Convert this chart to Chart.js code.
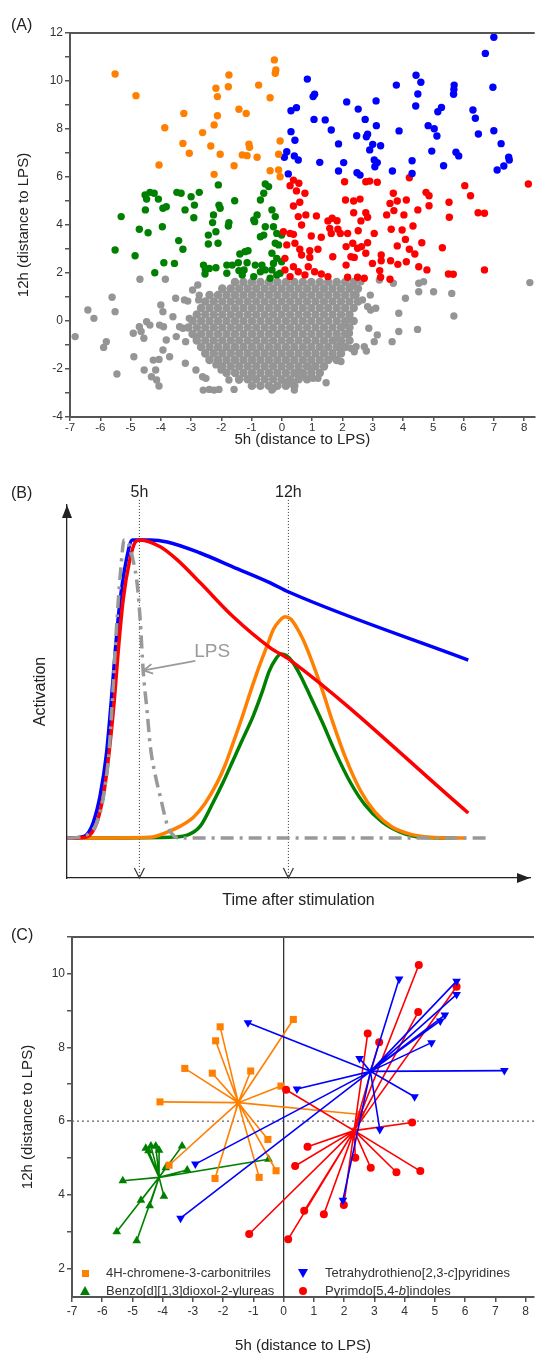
<!DOCTYPE html>
<html>
<head>
<meta charset="utf-8">
<script src="https://cdn.jsdelivr.net/npm/chart.js@4.4.1/dist/chart.umd.min.js"></script>
<style>
  body { margin: 0; background: #fff; width: 539px; height: 1355px; position: relative; overflow: hidden;
         font-family: Arial, "Liberation Sans", sans-serif; }
  canvas { position: absolute; left: 0; }
  .panel { position: absolute; font-size: 16px; color: #222; }
  .leg { position: absolute; font-size: 13px; color: #333; white-space: nowrap; line-height: 16px; }
  .mk { position: absolute; }
</style>
</head>
<body>
<canvas id="chartA" width="539" height="450" style="top:0"></canvas>
<canvas id="chartB" width="539" height="460" style="top:460px"></canvas>
<canvas id="chartC" width="539" height="435" style="top:920px"></canvas>

<div class="panel" style="left:11px;top:16px">(A)</div>
<div class="panel" style="left:11px;top:484px">(B)</div>
<div class="panel" style="left:11px;top:926px">(C)</div>

<!-- panel C legend -->
<div class="mk" style="left:82px;top:1270px;width:7px;height:7px;background:#FF8000"></div>
<div class="mk" style="left:80px;top:1286px;width:0;height:0;border-left:5px solid transparent;border-right:5px solid transparent;border-bottom:9px solid #008000"></div>
<div class="mk" style="left:298px;top:1269px;width:0;height:0;border-left:5px solid transparent;border-right:5px solid transparent;border-top:9px solid #0000FF"></div>
<div class="mk" style="left:299px;top:1287px;width:8px;height:8px;border-radius:50%;background:#FF0000"></div>
<div class="leg" style="left:106px;top:1265px">4H-chromene-3-carbonitriles</div>
<div class="leg" style="left:106px;top:1283px">Benzo[d][1,3]dioxol-2-ylureas</div>
<div class="leg" style="left:325px;top:1265px">Tetrahydrothieno[2,3-<i>c</i>]pyridines</div>
<div class="leg" style="left:325px;top:1283px">Pyrimdo[5,4-<i>b</i>]indoles</div>

<script>
// ---------- panel A data: [5h, 12h] distance to LPS ----------
const orangeA = [[-5.51,10.29],[-4.82,9.39],[-3.24,8.65],[-3.87,8.05],[-4.06,6.5],[-3.27,7.40],[-3.06,6.99],[-2.62,7.85],
  [-2.35,7.29],[-2.24,8.17],[-2.13,8.55],[-2.13,9.35],[-2.18,9.70],[-1.77,9.76],[-1.75,10.25],[-2.04,6.95],[-2.24,6.11],
  [-1.58,6.47],[-1.42,8.82],[-1.18,8.65],[-1.09,7.37],[-1.07,7.24],[-1.31,6.92],[-1.15,6.89],[-0.82,6.82],[-0.77,9.83],
  [-0.25,10.88],[-0.20,10.46],[-0.22,10.32],[-0.39,9.30],[-0.06,7.5],[-0.11,6.95],[-0.39,6.26],[-0.11,6.29],[-0.06,6.01]];

const blueA = [[7.0,11.82],[6.72,11.15],[6.97,9.74],[0.84,10.08],[3.78,9.83],[4.43,10.24],[4.59,9.95],[4.49,9.46],[4.42,8.96],
  [5.69,9.83],[5.68,9.65],[5.67,9.45],[1.03,9.35],[1.08,9.45],[0.30,8.76],[0.48,8.89],[2.14,9.13],[3.11,9.17],[2.52,8.83],
  [1.06,8.40],[1.43,8.38],[2.75,8.40],[5.15,8.72],[5.27,8.90],[6.31,8.79],[6.39,8.45],[1.63,7.96],[3.12,8.14],[0.30,7.89],
  [0.43,7.53],[2.47,7.72],[2.79,7.68],[2.83,7.78],[3.87,7.92],[4.83,8.14],[5.03,8.01],[5.12,7.71],[6.49,7.79],[7.0,7.93],
  [1.87,7.38],[3.00,7.36],[3.26,7.30],[2.90,7.13],[0.16,7.05],[0.08,6.82],[0.41,6.88],[0.54,6.71],[1.25,6.61],[2.04,6.60],
  [3.05,6.71],[3.15,6.60],[3.07,6.43],[4.30,6.68],[4.95,7.08],[5.75,7.03],[5.84,6.88],[5.34,6.47],[7.24,7.39],[7.49,6.82],
  [7.51,6.71],[7.33,6.46],[7.11,6.29],[1.87,6.25],[2.48,6.18],[2.58,6.08],[3.65,6.25],[4.30,6.15],[0.21,6.13]];

const redA = [[2.07,5.80],[2.77,5.80],[2.90,5.83],[3.15,5.78],[4.21,5.97],[6.04,5.64],[6.23,5.22],[8.14,5.71],[0.27,5.64],
  [0.38,5.87],[0.56,5.74],[0.48,5.42],[0.76,5.32],[0.59,4.95],[3.68,5.32],[4.76,5.36],[4.86,5.22],[2.10,5.04],[2.37,5.0],
  [2.58,5.08],[3.57,4.90],[3.81,5.0],[4.11,5.04],[5.52,4.95],[0.38,4.79],[4.86,4.80],[6.48,4.51],[6.69,4.49],[0.54,4.35],
  [0.79,4.42],[1.14,4.38],[1.52,4.17],[1.66,4.28],[1.82,4.18],[2.37,4.51],[2.61,4.17],[2.83,4.32],[2.77,4.51],[3.46,4.42],
  [3.70,4.60],[4.03,4.42],[4.49,4.63],[5.53,4.32],[0.65,4.0],[1.58,3.86],[1.85,3.82],[1.93,3.65],[2.17,3.65],[2.52,3.76],
  [3.05,3.65],[3.61,3.82],[3.97,3.79],[4.33,3.96],[0.27,3.65],[0.38,3.61],[0.05,3.72],[0.97,3.54],[1.30,3.49],[1.63,3.65],
  [0.16,3.17],[0.43,3.24],[0.59,2.99],[0.92,2.93],[1.19,2.99],[0.65,2.75],[0.92,2.65],[1.68,2.68],[2.12,3.10],[2.34,3.24],
  [2.50,3.03],[2.63,3.10],[2.77,2.82],[2.39,2.65],[2.83,3.26],[3.28,2.75],[3.28,2.51],[2.99,2.40],[3.23,2.10],[3.59,2.51],
  [3.81,3.13],[3.83,2.36],[4.11,2.47],[4.21,2.99],[4.39,2.79],[4.08,3.40],[4.52,2.26],[4.79,2.13],[4.62,3.26],[5.30,3.05],
  [5.50,1.96],[5.66,1.95],[6.69,2.13],[0.10,2.61],[0.38,2.26],[0.10,2.13],[0.54,2.05],[0.87,2.26],[1.08,2.05],[1.30,1.96],
  [1.52,1.85],[0.27,1.85],[0.76,1.92],[2.17,1.82],[2.50,1.82],[2.72,1.78],[3.26,1.82],[3.57,1.74],[2.12,2.33],[2.28,2.68]];

const greenA = [[-4.52,5.25],[-4.36,5.36],[-4.22,5.32],[-4.08,5.08],[-4.47,5.08],[-3.47,5.36],[-3.33,5.32],[-3.0,5.18],
  [-2.73,5.36],[-2.10,5.67],[-1.56,5.01],[-2.08,4.83],[-0.55,5.71],[-0.60,5.32],[-0.71,5.04],[-0.44,5.60],[-5.31,4.35],
  [-5.51,2.96],[-4.85,2.72],[-4.71,3.82],[-4.42,3.68],[-4.51,4.63],[-3.93,4.70],[-3.82,4.76],[-3.95,3.93],[-3.41,3.35],
  [-3.27,2.99],[-3.90,2.43],[-3.55,2.40],[-4.20,2.01],[-3.20,4.63],[-2.89,4.83],[-2.91,4.30],[-2.26,4.42],[-2.29,4.10],
  [-2.18,3.72],[-2.43,3.58],[-2.43,3.21],[-2.11,3.24],[-2.04,4.70],[-1.75,4.10],[-1.77,3.96],[-2.59,2.33],[-2.53,2.15],
  [-2.40,2.19],[-2.18,2.22],[-2.54,1.96],[-1.82,2.33],[-1.64,2.33],[-1.44,2.43],[-1.82,1.99],[-1.39,2.79],[-1.22,2.89],
  [-1.12,2.93],[-1.15,2.43],[-1.42,2.10],[-1.31,1.92],[-1.25,2.13],[-0.93,1.85],[-0.88,2.33],[-0.66,2.33],[-0.55,2.13],
  [-0.71,2.05],[-0.90,4.14],[-0.82,4.42],[-0.93,4.21],[-0.60,3.58],[-0.71,3.51],[-0.55,3.93],[-0.33,4.63],[-0.22,4.35],
  [-0.28,3.93],[-0.17,3.65],[-0.01,3.58],[-0.22,3.24],[-0.11,3.17],[-0.33,2.82],[-0.17,2.61],[-0.28,2.40],[-0.01,2.47],
  [-0.33,2.13],[-0.17,1.92],[-0.39,1.78],[-0.06,1.99]];

// scattered grey compounds around the main cloud
const grayOutA = [[-6.83,-0.65],[-6.41,0.46],[-6.21,0.11],[-5.61,0.99],[-5.51,0.39],[-5.80,-0.86],[-5.89,-1.10],[-5.45,-2.21],
  [-4.91,-0.51],[-4.89,-1.49],[-4.69,1.74],[-4.71,-0.24],[-4.65,-0.44],[-4.56,-0.72],[-4.55,-2.04],[-4.47,-0.03],[-4.36,-0.17],
  [-4.25,-1.63],[-4.31,-2.32],[-4.17,-2.04],[-4.14,-2.46],[-4.06,-2.71],[-4.06,-1.60],[-4.00,0.67],[-3.93,0.39],[-4.04,-0.17],
  [-3.91,-0.24],[-3.85,1.74],[-3.82,-0.79],[-3.93,-1.21],[-3.71,-1.49],[-3.60,0.18],[-3.51,0.95],[-3.38,-0.24],[-3.49,-0.65],
  [-3.27,-0.30],[-3.22,0.88],[-3.19,-1.76],[-3.11,0.83],[-3.06,0.11],[-2.95,1.29],[-2.78,1.50],[-2.73,1.08],[-2.75,0.88],
  [-2.84,-0.65],[-2.84,-2.04],[-2.60,-2.88],[-2.40,-2.85],[-2.24,-2.88],[-2.08,-2.85],[-2.62,-2.32],[-2.51,-2.39],[-2.18,-1.83],
  [-2.01,-2.04],[-1.75,-2.46],[-1.58,-2.85],[-1.42,-2.46],[-1.09,-2.39],[-3.18,-0.86],[-0.28,-2.80],[0.16,-2.57],[0.38,-2.57],
  [0.41,-2.88],[0.70,-2.25],[1.03,-2.39],[1.19,-2.39],[1.46,-2.57],[1.95,-1.69],[2.28,-1.14],[2.45,-1.07],[2.72,-1.07],
  [2.79,-1.25],[2.87,-0.30],[3.05,-0.86],[3.15,-0.58],[3.64,-0.86],[3.86,-0.44],[4.48,-0.35],[2.93,0.46],[3.10,0.53],[2.92,1.08],
  [3.86,0.32],[4.08,0.95],[4.52,1.22],[4.52,1.57],[4.68,1.64],[5.01,1.22],[5.61,1.15],[5.68,0.21],[8.19,1.60],[3.68,1.57],
  [3.22,1.71],[2.61,1.64],[2.28,1.43],[2.45,1.08],[2.66,0.88],[2.83,0.60],[2.17,0.04],[2.07,-0.17],[2.23,-0.51],[1.90,-0.79],
  [2.39,-1.28],[1.95,-1.07],[1.68,-1.49],[0.97,-1.97],[0.59,-2.18],[-0.01,-2.46],[-0.33,-2.88]];

// dense grey core, read row by row: [12h, list of 5h values]
const grayCoreA = [
  [1.62, [-1.55,-1.27,-0.99,-0.71,-0.43,-0.15,0.13,0.41,0.69,0.97,1.25,1.53,1.81,2.09,2.37]],
  [1.35, [-1.97,-1.69,-1.41,-1.13,-0.85,-0.57,-0.29,-0.01,0.27,0.55,0.83,1.11,1.39,1.67,1.95,2.23,2.51]],
  [1.08, [-2.39,-2.11,-1.83,-1.55,-1.27,-0.99,-0.71,-0.43,-0.15,0.13,0.41,0.69,0.97,1.25,1.53,1.81,2.09,2.37]],
  [0.81, [-2.53,-2.25,-1.97,-1.69,-1.41,-1.13,-0.85,-0.57,-0.29,-0.01,0.27,0.55,0.83,1.11,1.39,1.67,1.95,2.23,2.51]],
  [0.54, [-2.67,-2.39,-2.11,-1.83,-1.55,-1.27,-0.99,-0.71,-0.43,-0.15,0.13,0.41,0.69,0.97,1.25,1.53,1.81,2.09,2.37]],
  [0.27, [-2.81,-2.53,-2.25,-1.97,-1.69,-1.41,-1.13,-0.85,-0.57,-0.29,-0.01,0.27,0.55,0.83,1.11,1.39,1.67,1.95,2.23]],
  [0.00, [-2.95,-2.67,-2.39,-2.11,-1.83,-1.55,-1.27,-0.99,-0.71,-0.43,-0.15,0.13,0.41,0.69,0.97,1.25,1.53,1.81,2.09,2.37]],
  [-0.27, [-3.09,-2.81,-2.53,-2.25,-1.97,-1.69,-1.41,-1.13,-0.85,-0.57,-0.29,-0.01,0.27,0.55,0.83,1.11,1.39,1.67,1.95,2.23]],
  [-0.54, [-2.95,-2.67,-2.39,-2.11,-1.83,-1.55,-1.27,-0.99,-0.71,-0.43,-0.15,0.13,0.41,0.69,0.97,1.25,1.53,1.81,2.09]],
  [-0.81, [-2.81,-2.53,-2.25,-1.97,-1.69,-1.41,-1.13,-0.85,-0.57,-0.29,-0.01,0.27,0.55,0.83,1.11,1.39,1.67,1.95,2.23]],
  [-1.08, [-2.67,-2.39,-2.11,-1.83,-1.55,-1.27,-0.99,-0.71,-0.43,-0.15,0.13,0.41,0.69,0.97,1.25,1.53,1.81,2.09]],
  [-1.35, [-2.53,-2.25,-1.97,-1.69,-1.41,-1.13,-0.85,-0.57,-0.29,-0.01,0.27,0.55,0.83,1.11,1.39,1.67,1.95]],
  [-1.62, [-2.39,-2.11,-1.83,-1.55,-1.27,-0.99,-0.71,-0.43,-0.15,0.13,0.41,0.69,0.97,1.25,1.53,1.81]],
  [-1.89, [-1.97,-1.69,-1.41,-1.13,-0.85,-0.57,-0.29,-0.01,0.27,0.55,0.83,1.11,1.39]],
  [-2.16, [-1.83,-1.55,-1.27,-0.99,-0.71,-0.43,-0.15,0.13,0.41,0.69,0.97,1.25]],
  [-2.43, [-1.41,-1.13,-0.85,-0.57,-0.29,-0.01,0.27,0.55,0.83]],
  [-2.70, [-0.99,-0.71,-0.43,-0.15,0.13,0.41]]
];

const xTicksA = [-7,-6,-5,-4,-3,-2,-1,0,1,2,3,4,5,6,7,8];
const yTicksA = [-4,-3,-2,-1,0,1,2,3,4,5,6,7,8,9,10,11,12];
const yLabelsA = [-4,-2,0,2,4,6,8,10,12];

// ---------- panel B data: [time (h), activation] ----------
const lpsCurve = [[1.62,0],[2.23,0.003],[2.6,0.013],[2.93,0.04],[3.21,0.1],[3.4,0.18],[3.54,0.26],[3.73,0.46],[3.92,0.7],
  [4.1,0.88],[4.29,1.0],[4.48,0.99],[4.71,0.93],[4.9,0.85],[5.04,0.73],[5.18,0.56],[5.37,0.42],[5.51,0.31],[5.75,0.21],
  [5.98,0.14],[6.31,0.044],[6.54,0.013],[6.83,0],[21.47,0]];
const blueCurve = [[1.62,0],[2.23,0.003],[2.55,0.013],[2.84,0.054],[3.16,0.144],[3.45,0.28],[3.68,0.46],[3.87,0.63],
  [4.1,0.8],[4.38,0.93],[4.67,1.0],[5.51,1.0],[6.31,0.993],[7.86,0.956],[9.41,0.909],[11.15,0.856],[11.99,0.826],[20.45,0.597]];
const redCurve = [[1.62,0],[2.46,0.003],[2.79,0.02],[3.07,0.067],[3.35,0.16],[3.59,0.295],[3.82,0.46],[4.01,0.63],
  [4.24,0.8],[4.53,0.926],[4.81,0.993],[5.04,1.0],[5.98,0.977],[6.78,0.933],[7.86,0.856],[9.41,0.742],[11.15,0.638],
  [12.08,0.597],[20.45,0.084]];
const orangeCurve = [[1.62,0],[5.51,0.003],[6.31,0.02],[6.92,0.04],[7.54,0.07],[8.09,0.117],[8.65,0.185],[9.03,0.245],
  [9.41,0.32],[9.83,0.406],[10.2,0.487],[10.6,0.57],[11.0,0.645],[11.3,0.7],[11.6,0.73],[11.85,0.742],[12.1,0.735],
  [12.4,0.705],[12.7,0.664],[13.12,0.59],[13.59,0.497],[14.05,0.396],[14.67,0.272],[15.37,0.161],[16.07,0.087],
  [16.87,0.037],[17.72,0.013],[18.66,0.003],[20.3,0]];
const greenCurve = [[1.62,0],[6.45,0.003],[7.25,0.01],[7.86,0.04],[8.47,0.12],[8.94,0.188],[9.41,0.262],[9.88,0.336],
  [10.35,0.41],[10.77,0.49],[11.1,0.56],[11.4,0.6],[11.65,0.617],[11.9,0.612],[12.2,0.59],[12.55,0.547],[13.0,0.48],
  [13.59,0.389],[14.2,0.289],[14.9,0.188],[15.6,0.111],[16.4,0.054],[17.25,0.02],[18.19,0.003],[19.8,0]];
const markTimes = [5, 12];
const markLabels = ['5h', '12h'];

// ---------- panel C data: group centre + member compounds ----------
const orangeCenterC = [-1.5, 6.5];
const orangeC = [[-2.10,8.56],[-2.25,8.18],[-3.27,7.43],[-2.36,7.30],[-1.09,7.36],[0.32,8.76],[-0.09,6.95],[-4.09,6.52],
  [2.55,6.18],[-0.52,5.50],[-0.25,4.65],[-0.81,4.47],[-2.27,4.44],[-3.79,4.80]];
const greenCenterC = [-4.12, 4.47];
const greenC = [[-4.56,5.26],[-4.39,5.32],[-4.23,5.32],[-4.12,5.21],[-4.47,5.19],[-3.36,5.32],[-3.90,4.73],[-3.19,4.67],
  [-5.32,4.38],[-4.72,3.85],[-4.43,3.70],[-3.96,3.96],[-5.52,2.99],[-4.86,2.75],[-0.50,4.96]];
const blueCenterC = [2.87, 7.35];
const blueC = [[3.82,9.86],[5.72,9.80],[5.72,9.44],[5.33,8.88],[5.18,8.72],[4.89,8.13],[7.30,7.37],[2.51,7.70],[4.33,6.66],
  [0.44,6.87],[3.18,5.77],[1.96,3.85],[-1.18,8.67],[-2.92,4.83],[-3.41,3.36]];
const redCenterC = [2.33, 5.74];
const redC = [[4.47,10.24],[5.72,9.65],[4.45,8.96],[2.78,8.38],[3.16,8.14],[0.08,6.85],[4.25,5.96],[0.79,5.30],[0.38,4.78],
  [2.37,5.00],[2.88,4.73],[3.73,4.61],[4.52,4.64],[1.99,3.72],[1.33,3.47],[0.68,3.56],[0.15,2.79],[-1.14,2.93]];
const xTicksC = [-7,-6,-5,-4,-3,-2,-1,0,1,2,3,4,5,6,7,8];
const yTicksC = [2,3,4,5,6,7,8,9,10,11];
const yLabelsC = [2,4,6,8,10];

// ---------- helpers ----------
const FONT = 'Arial, "Liberation Sans", sans-serif';
const toPts = arr => arr.map(([x, y]) => ({ x, y }));
const coreToPts = rows => rows.flatMap(([y, xs]) => xs.map(x => ({ x, y })));
const star = (c, pts) => pts.flatMap(p => [{ x: c[0], y: c[1] }, { x: p[0], y: p[1] }]);

function axisStyle(ticks, labels, extra, tickFont) {
  return Object.assign({
    type: 'linear',
    afterBuildTicks: s => { s.ticks = ticks.map(v => ({ value: v })); },
    ticks: {
      autoSkip: false, maxRotation: 0, color: '#333', padding: 2,
      font: { family: FONT, size: tickFont || 12 },
      callback: v => (labels.includes(v) ? String(v) : '')
    },
    grid: { drawOnChartArea: false, color: '#555', lineWidth: 1.5, tickLength: 5 },
    border: { color: '#555', width: 2 }
  }, extra);
}

// top frame line for A and C
const topFrame = {
  id: 'topFrame',
  afterDraw(chart) {
    const { ctx, chartArea: a } = chart;
    ctx.save();
    ctx.strokeStyle = '#555';
    ctx.lineWidth = 2;
    ctx.beginPath();
    ctx.moveTo(a.left, a.top);
    ctx.lineTo(a.right, a.top);
    ctx.stroke();
    ctx.restore();
  }
};

// ---------- chart A ----------
const xAxisA = axisStyle(xTicksA, xTicksA, {
  min: -7, max: 8.35,
  afterFit: s => { s.height = 33; },
  title: { display: true, text: '5h (distance to LPS)', color: '#222',
           font: { family: FONT, size: 15 }, padding: { top: 0, bottom: 1 } }
}, 11.5);
xAxisA.ticks.padding = 0;
xAxisA.grid.tickLength = 4;

new Chart(document.getElementById('chartA'), {
  type: 'scatter',
  data: {
    datasets: [
      { data: toPts(orangeA), backgroundColor: '#FF8000' },
      { data: toPts(blueA), backgroundColor: '#0000FF' },
      { data: toPts(redA), backgroundColor: '#FF0000' },
      { data: toPts(greenA), backgroundColor: '#008000' },
      { data: toPts(grayOutA), backgroundColor: '#959595' },
      { data: coreToPts(grayCoreA), backgroundColor: '#959595', pointRadius: 4.3 }
    ]
  },
  options: {
    responsive: false, animation: false, events: [],
    layout: { padding: { top: 33, right: 0, left: 0, bottom: 0 } },
    elements: { point: { radius: 3.7, borderWidth: 0 } },
    plugins: { legend: { display: false }, tooltip: { enabled: false } },
    scales: {
      x: xAxisA,
      y: axisStyle(yTicksA, yLabelsA, {
        min: -4, max: 12,
        afterFit: s => { s.width = 70; },
        title: { display: true, text: '12h (distance to LPS)', color: '#222',
                 font: { family: FONT, size: 15 }, padding: { top: 15, bottom: 0 } }
      })
    }
  },
  plugins: [topFrame]
});

// ---------- chart B ----------
const bDecor = {
  id: 'bDecor',
  beforeDatasetsDraw(chart) {
    const { ctx, chartArea: a, scales: { x, y } } = chart;
    ctx.save();
    ctx.strokeStyle = '#333';
    ctx.lineWidth = 1;
    ctx.setLineDash([1, 2]);
    markTimes.forEach(t => {
      const px = x.getPixelForValue(t);
      ctx.beginPath();
      ctx.moveTo(px, y.getPixelForValue(1.134));
      ctx.lineTo(px, a.bottom);
      ctx.stroke();
    });
    ctx.restore();
  },
  afterDraw(chart) {
    const { ctx, chartArea: a, scales: { x, y } } = chart;
    ctx.save();
    // axis arrowheads
    ctx.fillStyle = '#222';
    ctx.beginPath();
    ctx.moveTo(a.left, a.top); ctx.lineTo(a.left - 5, a.top + 13); ctx.lineTo(a.left + 5, a.top + 13);
    ctx.closePath(); ctx.fill();
    ctx.beginPath();
    ctx.moveTo(a.right, a.bottom); ctx.lineTo(a.right - 13, a.bottom - 5); ctx.lineTo(a.right - 13, a.bottom + 5);
    ctx.closePath(); ctx.fill();
    // time markers: open arrowheads and labels
    ctx.strokeStyle = '#333';
    ctx.lineWidth = 1.2;
    ctx.font = '16px ' + FONT;
    ctx.textAlign = 'center';
    ctx.textBaseline = 'middle';
    markTimes.forEach((t, i) => {
      const px = x.getPixelForValue(t);
      ctx.beginPath();
      ctx.moveTo(px - 5, a.bottom - 10); ctx.lineTo(px, a.bottom); ctx.lineTo(px + 5, a.bottom - 10);
      ctx.stroke();
      ctx.fillText(markLabels[i], px, y.getPixelForValue(1.158));
    });
    // LPS annotation
    const tx = x.getPixelForValue(8.42), ty = y.getPixelForValue(0.624);
    ctx.fillStyle = '#9a9a9a';
    ctx.font = '19px ' + FONT;
    ctx.fillText('LPS', tx, ty);
    const x0 = x.getPixelForValue(7.63), y0 = y.getPixelForValue(0.594);
    const x1 = x.getPixelForValue(5.2), y1 = y.getPixelForValue(0.562);
    ctx.strokeStyle = '#9a9a9a';
    ctx.lineWidth = 1.8;
    ctx.beginPath(); ctx.moveTo(x0, y0); ctx.lineTo(x1, y1); ctx.stroke();
    const ang = Math.atan2(y0 - y1, x0 - x1);
    ctx.beginPath();
    ctx.moveTo(x1 + 10 * Math.cos(ang - 0.5), y1 + 10 * Math.sin(ang - 0.5));
    ctx.lineTo(x1, y1);
    ctx.lineTo(x1 + 10 * Math.cos(ang + 0.5), y1 + 10 * Math.sin(ang + 0.5));
    ctx.stroke();
    ctx.restore();
  }
};

const curve = (arr, color, dash) => ({
  data: toPts(arr), borderColor: color, borderWidth: 3.5, showLine: true, pointRadius: 0,
  cubicInterpolationMode: 'monotone', borderDash: dash || [], fill: false
});

new Chart(document.getElementById('chartB'), {
  type: 'scatter',
  data: {
    datasets: [
      curve(lpsCurve, '#999999', [13, 6, 3, 6]),
      curve(redCurve, '#FF0000'),
      curve(blueCurve, '#0000FF'),
      curve(orangeCurve, '#FF8000'),
      curve(greenCurve, '#008000')
    ]
  },
  options: {
    responsive: false, animation: false, events: [],
    layout: { padding: { top: 45, right: 9, left: 0, bottom: 0 } },
    plugins: { legend: { display: false }, tooltip: { enabled: false } },
    scales: {
      x: {
        type: 'linear', min: 1.6, max: 23.35,
        afterFit: s => { s.height = 42; },
        ticks: { display: false }, grid: { display: false },
        border: { color: '#222', width: 1.3 },
        title: { display: true, text: 'Time after stimulation', color: '#222',
                 font: { family: FONT, size: 16 }, padding: { top: 0, bottom: 10 } }
      },
      y: {
        type: 'linear', min: -0.134, max: 1.117,
        afterFit: s => { s.width = 67; },
        ticks: { display: false }, grid: { display: false },
        border: { color: '#222', width: 1.3 },
        title: { display: true, text: 'Activation', color: '#222',
                 font: { family: FONT, size: 16 }, padding: { top: 31, bottom: 0 } }
      }
    }
  },
  plugins: [bDecor]
});

// ---------- chart C ----------
const cGuides = {
  id: 'cGuides',
  beforeDatasetsDraw(chart) {
    const { ctx, chartArea: a, scales: { x, y } } = chart;
    ctx.save();
    ctx.strokeStyle = '#666';
    ctx.lineWidth = 1.3;
    ctx.setLineDash([2, 3]);
    const py = y.getPixelForValue(6);
    ctx.beginPath(); ctx.moveTo(a.left, py); ctx.lineTo(a.right, py); ctx.stroke();
    ctx.setLineDash([]);
    ctx.strokeStyle = '#333';
    ctx.lineWidth = 1.3;
    const px = x.getPixelForValue(0);
    ctx.beginPath(); ctx.moveTo(px, a.top); ctx.lineTo(px, a.bottom); ctx.stroke();
    ctx.restore();
  }
};

const starSet = (c, pts, color, style, size, rot) => ({
  data: star(c, pts), showLine: true, borderColor: color, borderWidth: 1.6,
  backgroundColor: color, pointBackgroundColor: color, pointBorderWidth: 0,
  pointStyle: style, pointRotation: rot || 0,
  pointRadius: ctx => (ctx.dataIndex % 2 ? size : 0)
});

new Chart(document.getElementById('chartC'), {
  type: 'scatter',
  data: {
    datasets: [
      starSet(blueCenterC, blueC, '#0000FF', 'triangle', 5, 180),
      starSet(redCenterC, redC, '#FF0000', 'circle', 4),
      starSet(orangeCenterC, orangeC, '#FF8000', 'rect', 5),
      starSet(greenCenterC, greenC, '#008000', 'triangle', 5)
    ]
  },
  options: {
    responsive: false, animation: false, events: [],
    layout: { padding: { top: 17, right: 0, left: 0, bottom: 0 } },
    plugins: { legend: { display: false }, tooltip: { enabled: false } },
    scales: {
      x: axisStyle(xTicksC, xTicksC, {
        min: -7, max: 8.28,
        afterFit: s => { s.height = 58; },
        title: { display: true, text: '5h (distance to LPS)', color: '#222',
                 font: { family: FONT, size: 15 }, padding: { top: 0, bottom: 0 } }
      }),
      y: axisStyle(yTicksC, yLabelsC, {
        min: 1.22, max: 11.0,
        afterFit: s => { s.width = 72; },
        title: { display: true, text: '12h (distance to LPS)', color: '#222',
                 font: { family: FONT, size: 15 }, padding: { top: 19, bottom: 0 } }
      })
    }
  },
  plugins: [topFrame, cGuides]
});
</script>
</body>
</html>
